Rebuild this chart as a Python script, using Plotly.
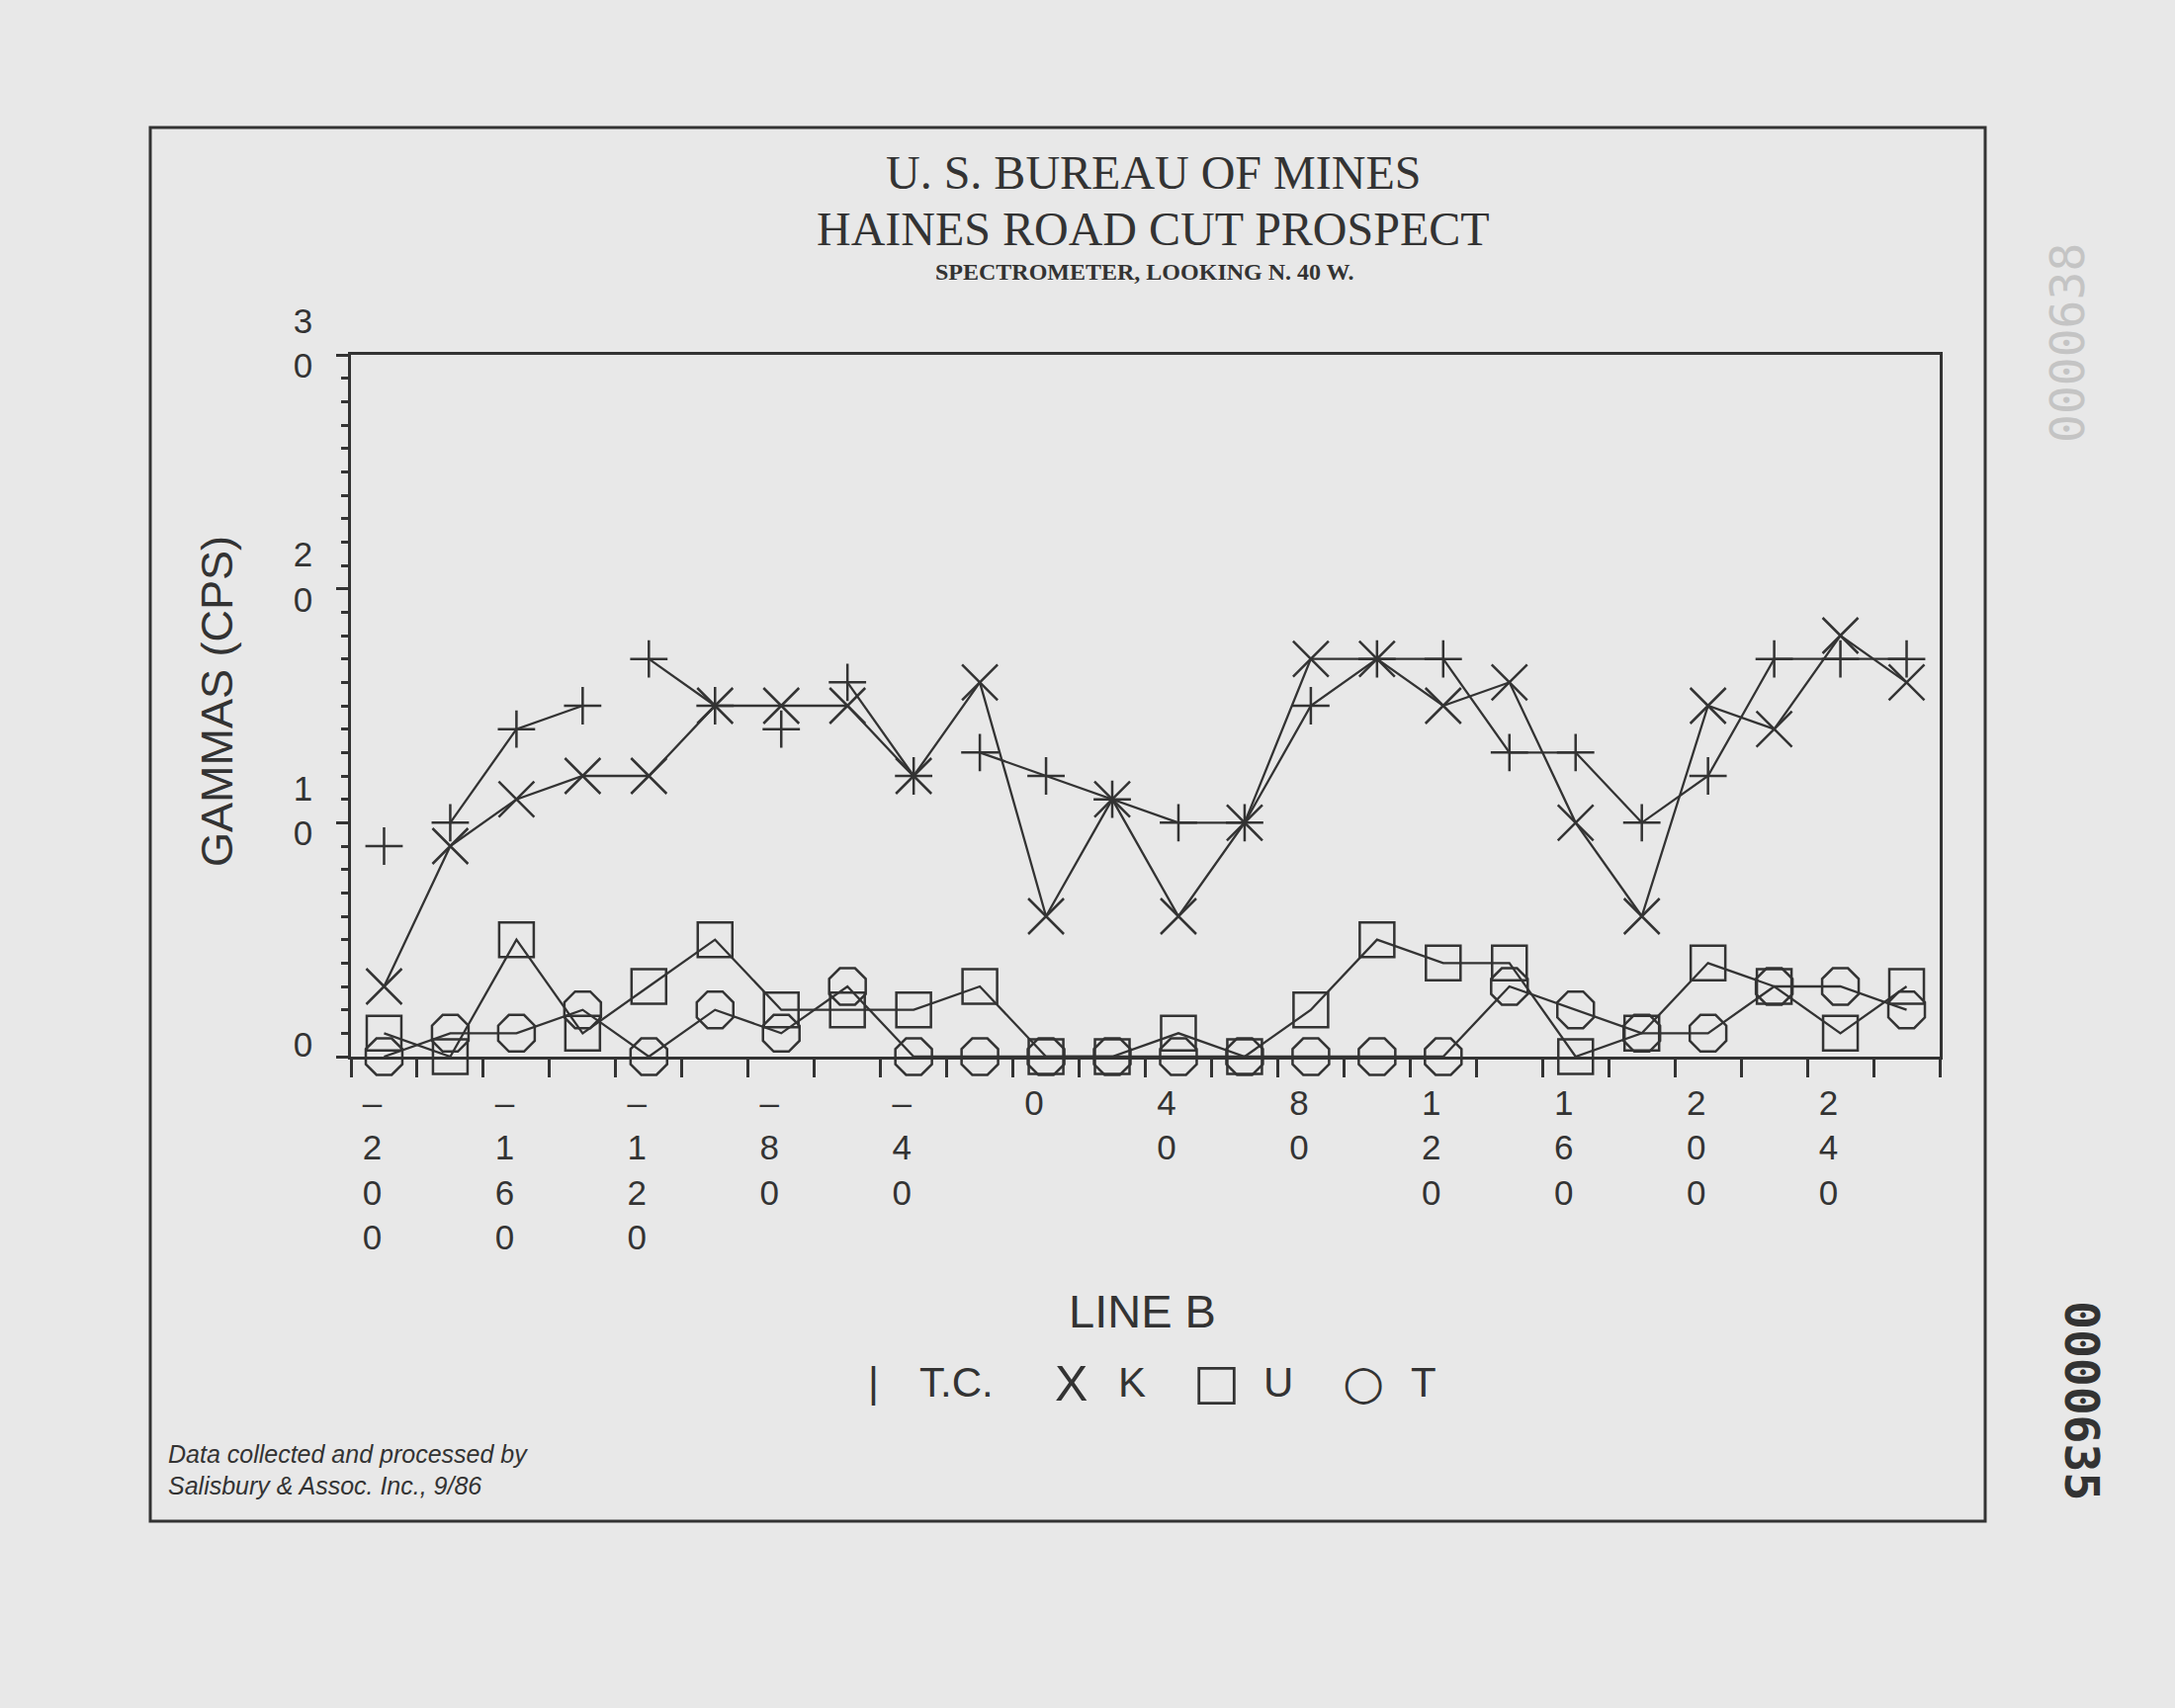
import plotly.graph_objects as go

# ---------------- data ----------------
positions = [-200, -180, -160, -140, -120, -100, -80, -60, -40, -20, 0, 20,
             40, 60, 80, 100, 120, 140, 160, 180, 200, 220, 240, 260]
tc_values = [9, 10, 14, 15, 17, 15, 14, 16, 12, 13, 12, 11,
             10, 10, 15, 17, 17, 13, 13, 10, 12, 17, 17, 17]
k_values = [3, 9, 11, 12, 12, 15, 15, 15, 12, 16, 6, 11,
            6, 10, 17, 17, 15, 16, 10, 6, 15, 14, 18, 16]
u_values = [1, 0, 5, 1, 3, 5, 2, 2, 2, 3, 0, 0,
            1, 0, 2, 5, 4, 4, 0, 1, 4, 3, 1, 3]
t_values = [0, 1, 1, 2, 0, 2, 1, 3, 0, 0, 0, 0,
            0, 0, 0, 0, 0, 3, 2, 1, 1, 3, 3, 2]
# T.C. segments that faded out on the original plot (start position of segment)
tc_faded_segments = [-200, -140, -100, -80, -40]

x_label_vals = [-200, -160, -120, -80, -40, 0, 40, 80, 120, 160, 200, 240]
y_label_vals = [0, 10, 20, 30]

# ---------------- style ----------------
W, H = 2200, 1728
L, R, T, B = 355, 1962, 359, 1069
INK = "#333333"
PAPER = "#e8e8e8"
SANS = "Liberation Sans, Arial, sans-serif"
SERIF = "Liberation Serif, Times New Roman, serif"


def fx(px):
    return (px - L) / (R - L)


def fy(py):
    return (B - py) / (B - T)


def stacked(v):
    s = str(v).replace("-", "\u2013")
    return "<br>".join(list(s))


def with_gaps(xs, ys, gaps):
    gx, gy = [], []
    for xv, yv in zip(xs, ys):
        gx.append(xv)
        gy.append(yv)
        if xv in gaps:
            gx.append(None)
            gy.append(None)
    return gx, gy


fig = go.Figure()

tcx, tcy = with_gaps(positions, tc_values, tc_faded_segments)
series = [
    ("T.C.", tcx, tcy, "cross-thin", 27),
    ("K", positions, k_values, "x-thin", 36),
    ("U", positions, u_values, "square-open", 35),
    ("T", positions, t_values, "octagon-open", 40),
]
for name, xs, ys, sym, sz in series:
    fig.add_trace(go.Scatter(
        x=xs, y=ys, name=name, mode="lines+markers",
        line=dict(color=INK, width=2.3),
        marker=dict(symbol=sym, size=sz, color=INK,
                    line=dict(color=INK, width=2.5)),
        connectgaps=False, cliponaxis=False, showlegend=False,
    ))

fig.update_xaxes(
    range=[-210, 270], showgrid=False, zeroline=False,
    showline=True, mirror=True, linecolor=INK, linewidth=2.5,
    tickmode="array", tickvals=x_label_vals,
    ticktext=[stacked(v) for v in x_label_vals],
    ticks="outside", ticklen=14, tickcolor="rgba(0,0,0,0)",
    ticklabelshift=-12,
    tickfont=dict(family=SANS, size=35, color=INK),
    minor=dict(tickmode="linear", tick0=-210, dtick=20, ticks="outside",
               ticklen=18, tickwidth=2.5, tickcolor=INK, showgrid=False),
)
fig.update_yaxes(
    range=[0, 30], showgrid=False, zeroline=False,
    showline=True, mirror=True, linecolor=INK, linewidth=2.5,
    tickmode="array", tickvals=y_label_vals,
    ticktext=[stacked(v) for v in y_label_vals],
    ticks="outside", ticklen=12, tickwidth=2.5, tickcolor=INK,
    ticklabelstandoff=17, ticklabelshift=-12,
    tickfont=dict(family=SANS, size=35, color=INK),
    minor=dict(tickmode="linear", tick0=0, dtick=1, ticks="outside",
               ticklen=7, tickwidth=2.5, tickcolor=INK, showgrid=False),
)

ann = []


def text(px, py, s, size, family=SANS, angle=0, xanchor="center",
         color=INK, bold=False, italic=False):
    if bold:
        s = "<b>" + s + "</b>"
    if italic:
        s = "<i>" + s + "</i>"
    ann.append(dict(x=fx(px), y=fy(py), xref="paper", yref="paper",
                    text=s, showarrow=False, textangle=angle,
                    xanchor=xanchor, yanchor="middle",
                    font=dict(family=family, size=size, color=color)))


text(1166, 175, "U. S. BUREAU OF MINES", 48, SERIF)
text(1166, 231, "HAINES ROAD CUT PROSPECT", 48, SERIF)
text(1157, 275, "SPECTROMETER, LOOKING N. 40 W.", 24, SERIF, bold=True)
text(219, 710, "GAMMAS (CPS)", 45, angle=-90)
text(1155, 1326, "LINE B", 47)

# legend row
text(883, 1398, "|", 42)
text(967, 1398, "T.C.", 42)
text(1083, 1400, "X", 50)
text(1145, 1398, "K", 42)
text(1230, 1398, "\u25a1", 50, family="DejaVu Sans")
text(1293, 1398, "U", 42)
text(1379, 1398, "\u25cb", 48, family="DejaVu Sans")
text(1440, 1398, "T", 42)

text(168, 1471, "Data collected and processed by", 25, xanchor="left", italic=True)
text(168, 1503, "Salisbury & Assoc. Inc., 9/86", 25, xanchor="left", italic=True)

text(2106, 1417, "0000635", 48, family="DejaVu Sans Mono, monospace",
     angle=90, bold=True)
text(2091, 347, "0000638", 48, family="DejaVu Sans Mono, monospace",
     angle=-90, color="#c4c4c4")

fig.update_layout(
    width=W, height=H,
    margin=dict(l=L, r=W - R, t=T, b=H - B, pad=0),
    paper_bgcolor=PAPER, plot_bgcolor=PAPER,
    annotations=ann,
    shapes=[dict(type="rect", xref="paper", yref="paper",
                 x0=fx(152), x1=fx(2008), y0=fy(129), y1=fy(1539),
                 line=dict(color=INK, width=3), fillcolor="rgba(0,0,0,0)",
                 layer="below")],
)

fig.write_html(
    "out.html",
    config={"displayModeBar": False},
    post_script="document.body.style.margin='0px';"
                "document.body.style.background='" + PAPER + "';",
)
